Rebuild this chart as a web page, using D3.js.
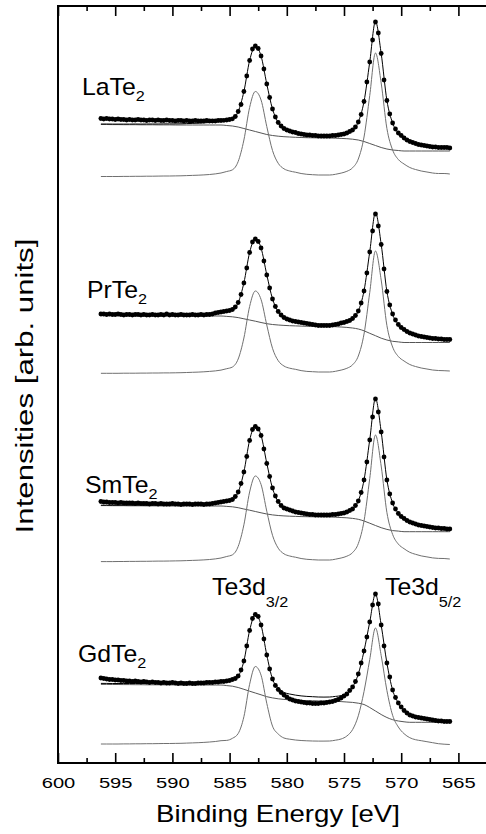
<!DOCTYPE html>
<html>
<head>
<meta charset="utf-8">
<script src="https://cdn.jsdelivr.net/npm/d3@7"></script>
<style>
  body { margin: 0; background: #fff; }
  svg { display: block; font-family: "Liberation Sans", Arial, sans-serif; }
</style>
</head>
<body>
<div id="chart"></div>
<script>
// binding energy of the measured points (eV), every second one is also a fit point
const energy = [
  596.25,596,595.75,595.5,595.25,595,594.75,594.5,594.25,594,
  593.75,593.5,593.25,593,592.75,592.5,592.25,592,591.75,591.5,
  591.25,591,590.75,590.5,590.25,590,589.75,589.5,589.25,589,
  588.75,588.5,588.25,588,587.75,587.5,587.25,587,586.75,586.5,
  586.25,586,585.75,585.5,585.25,585,584.75,584.5,584.25,584,
  583.75,583.5,583.25,583,582.75,582.5,582.25,582,581.75,581.5,
  581.25,581,580.75,580.5,580.25,580,579.75,579.5,579.25,579,
  578.75,578.5,578.25,578,577.75,577.5,577.25,577,576.75,576.5,
  576.25,576,575.75,575.5,575.25,575,574.75,574.5,574.25,574,
  573.75,573.5,573.25,573,572.75,572.5,572.25,572,571.75,571.5,
  571.25,571,570.75,570.5,570.25,570,569.75,569.5,569.25,569,
  568.75,568.5,568.25,568,567.75,567.5,567.25,567,566.75,566.5,
  566.25,566,565.75
];

const samples = ["LaTe", "PrTe", "SmTe", "GdTe"];
// vertical shift of each spectrum (arb. units)
const offsets = [586, 389, 201, 18];

// LaTe2
const dataLa = [
  58.5,58,58.5,58,58,57.5,58,57.5,57.5,57,
  57.5,57,57,57.5,57,57,56.5,57,57,56.5,
  57,56.5,56.5,57,56.5,56.5,56,56.5,56.5,56,
  56.5,56,56,56.5,56,56,56,56.5,56,56,
  56,56.5,56.5,56.7,57,57.5,58.2,60.5,65.5,72.5,
  85.5,101,116.5,128,131,128.5,121,108,93,79.5,
  68,60,54.5,51,48.5,47,46,45,44.5,43.5,
  43,42.5,42,42,41.5,41.5,41,41,41,41,
  41,41.5,41.5,42,42.5,43,44,45.5,47,50,
  55,62.5,75.5,95,115,137,155,144,123.5,97,
  76.5,63,54,48,44,41.5,39,37,35.5,34.5,
  33.5,32.5,32,31.5,31,30.5,30,30,29.5,29.5,
  29.5,29.5,29
];
const bgLa = [
  52.5,52.5,52.4,52.4,52.3,52.3,52.3,52.2,52.2,52.2,52.1,52.1,52.1,52,52,52,52,52,52,52,52,52,
  51.5,51,50,48.5,47,45.5,44,42.5,41.5,40.8,
  40.3,40,39.7,39.5,39.3,39.2,39.1,39,39,38.8,
  38.6,38.3,37.8,37,35.5,33.5,31.5,29.5,28,27,
  26.5,26,26,26,26,26,26,26,26,26
];
const peaksLa = [
  0.5,0.5,0.5,0.5,0.6,0.6,0.7,0.7,0.8,0.8,
  0.9,1,1,1.1,1.2,1.4,1.6,1.8,2.1,2.5,
  3.1,4,5.5,7.2,15.5,37,69.5,85.5,77,50.5,
  26.5,13.7,8.2,6,4.8,3.5,2.7,2.3,2,2,
  2,2.7,3.9,5.7,9.2,18,40,81.5,124,94,
  48.5,27,17.5,13,9.5,7.5,6,5,4,3.5,
  3.5,3
];

// PrTe2
const dataPr = [
  60,60,59.5,60,59.5,59.5,60,59.5,59,59.5,
  59.5,59,59.5,59.5,59,59.5,59,59,59.5,59,
  59,59.5,59,60,59,59.5,59,59,59.5,59,
  59,59,59.5,59,59,59.5,59,59.5,59.5,60,
  61,61.5,62,62.5,63,63.5,64.5,67,71.5,79.5,
  91,106,121.5,132,135,132.5,126,113,99,86,
  75,67.5,62.5,59,56.5,55,54,53,52.5,52,
  51.5,51,50.5,50,49.5,49,48.5,48.5,48.5,48.5,
  48.5,49,49.5,50,51,51.5,52.5,53.5,55.5,58.5,
  63,71,83,101,122,143,160,148,129.5,105,
  82.5,69,60,54,49.5,46.5,44.5,42.5,41,40,
  39,38,37.5,37,36.5,36,35.5,35.5,35,35,
  34.5,34.5,34.5
];
const bgPr = [
  58.3,58.3,58.3,58.2,58.2,58.2,58.2,58.1,58.1,58.1,58.1,58,58,58,58,58,58,58,58,58,58,58,
  57.6,57.2,56.4,55.2,54,52.8,51.5,50.3,49.5,49,
  48.6,48.3,48.1,47.9,47.7,47.7,47.6,47.5,47.5,47.3,
  47,46.6,46,45,43.2,40.7,38.3,35.8,34,32.7,
  32.1,31.5,31.5,31.5,31.5,31.5,31.5,31.5,31.5,31.5
];
const peaksPr = [
  0.7,0.7,0.7,0.7,0.8,0.8,0.8,0.9,0.9,1,
  1,1.1,1.1,1.2,1.3,1.5,1.7,1.9,2.2,2.6,
  3.1,3.9,5.3,7,15,36,67.5,83,74.5,49,
  25.7,13.3,8,5.8,4.7,3.4,2.6,2.3,2,2,
  2,2.7,3.9,5.7,9.2,18,40,81.5,123,94,
  48.5,27,17.5,13,9.5,7.5,6,5,4,3.5,
  3.3,3
];

// SmTe2
const dataSm = [
  60.5,60,60,59.5,59.5,59.5,59,59.5,59,59,
  59,59,58.5,59,58.5,58.5,58.5,58,58.5,58.5,
  58,58.5,58,58,58,58.5,58,58,57.5,58,
  58,58,57.5,58,58,58,57.5,58,58,58.5,
  59,59.5,60,60.5,61,61.5,62.5,65.5,70,78.5,
  90,105.5,121.5,132.5,135.5,133,126.5,113,98.5,85.5,
  74,66,60.5,56.5,54,53,52,51,50,49.5,
  49,48.5,48,47.5,47.5,47,47,47,47,47,
  47,47.5,47.5,48,48.5,49,50,51.5,53,56.5,
  61,69.5,82,100,122,145,163,150,130,105,
  82,68,59,53,48.5,45.5,43.5,41.5,40,39,
  38,37,36.5,36,35.5,35,34.5,34,34,33.5,
  33.5,33,33
];
const bgSm = [
  56.4,56.4,56.3,56.3,56.3,56.2,56.2,56.2,56.1,56.1,56.1,56,56,56,56,56,56,56,56,56,56,56,
  55.6,55.2,54.3,53,51.8,50.5,49.2,48,47.1,46.5,
  46.1,45.8,45.6,45.4,45.3,45.2,45.1,45,45,44.8,
  44.5,44.2,43.6,42.7,41,38.8,36.5,34.3,32.6,31.4,
  30.9,30.3,30.3,30.3,30.3,30.3,30.3,30.3,30.3,30.3
];
const peaksSm = [
  0.4,0.4,0.4,0.5,0.5,0.6,0.6,0.7,0.7,0.8,
  0.9,0.9,1,1.1,1.2,1.4,1.6,1.8,2.1,2.5,
  3.1,4,5.5,7.2,15.6,37.2,70,86,77.5,50.8,
  26.7,13.8,8.2,6,4.8,3.5,2.7,2.3,2,2,
  2,2.8,4,5.8,9.4,18.4,41,83.5,127,96,
  49.5,27.6,17.9,13.3,9.7,7.7,6.1,5.1,4.1,3.6,
  3.5,3
];

// GdTe2
const dataGd = [
  67,66.5,66,65.5,65.5,65,65,64.5,64.5,64,
  64,63.5,64,63.5,63,63.5,63,62.5,63,62.5,
  62.5,62,62.5,62,62,62.5,62,61.5,62,61.5,
  61.5,62,61.5,61.5,62,62,62,62.5,62.5,62.5,
  63,63,63.5,63.5,64,64.5,65.5,66.5,69,75,
  84,99,114.5,126.5,130.5,128.5,120,106,90,76,
  66,59.5,55.5,52.5,50,48,46,45,44,43.5,
  43,42.5,42,42,41.5,41.5,41.5,42,42,42.5,
  43,43.5,44.5,45.5,47,49,51,54.5,58,63.5,
  71,82,94,108,123,140,151,141,120,99,
  82,68,55,47.5,42,38,34.5,32,30,29,
  28,27.5,27,26.5,26,25.5,25,24.5,24,24,
  23.5,23.5,23.5
];
const bgGd = [
  60.6,60.6,60.5,60.5,60.4,60.4,60.3,60.3,60.2,60.2,60.2,60.1,60.1,60.1,60,60,60,60,60,60,60,60,
  59.4,58.8,57.5,55.7,53.8,52,50.2,48.3,47.1,46.2,
  45.6,45.2,44.9,44.6,44.4,44.3,44.1,44,44,43.8,
  43.4,43,42.6,41.8,40.5,37.5,34,30.5,27.5,25.3,
  24,23.2,22.7,22.7,22.7,22.7,22.7,22.7,22.7,22.7
];
const peaksGd = [
  1,1,1,1,1.1,1.1,1.2,1.2,1.3,1.3,
  1.4,1.5,1.5,1.6,1.7,1.9,2.1,2.3,2.6,3,
  3.5,4.3,4.6,6.7,11.5,28.3,60.7,78.5,69.8,41.7,
  18.9,11,7,5.8,5,4.5,4.2,4,3.9,3.9,
  4,4.8,6,9,15.4,29.2,53.5,85.5,117,89.5,
  54.5,29.7,18,11.3,7.3,5.3,4.3,3.3,2.3,1.3,
  0.8,0.5
];

const majorTicks = [600, 595, 590, 585, 580, 575, 570, 565];
const minorTicks = [597.5, 592.5, 587.5, 582.5, 577.5, 572.5, 567.5, 562.5];

const spectra = [
  { data: dataLa, bg: bgLa, peaks: peaksLa },
  { data: dataPr, bg: bgPr, peaks: peaksPr },
  { data: dataSm, bg: bgSm, peaks: peaksSm },
  { data: dataGd, bg: bgGd, peaks: peaksGd }
];

const width = 486, height = 834;
const fitEnergy = energy.filter((d, i) => i % 2 === 0);

const x = d3.scaleLinear().domain([600, 560]).range([58, 515.6]);
const y = d3.scaleLinear().domain([0, 757]).range([763, 6]);

const svg = d3.select("#chart").append("svg")
  .attr("width", width)
  .attr("height", height);

svg.append("rect").attr("width", width).attr("height", height).attr("fill", "#fff");

const line = d3.line()
  .x((d) => x(d[0]))
  .y((d) => y(d[1]))
  .curve(d3.curveMonotoneX);

spectra.forEach((s, k) => {
  const off = offsets[k];
  const g = svg.append("g").attr("class", "spectrum");

  g.append("path")
    .attr("d", line(fitEnergy.map((e, j) => [e, off + s.bg[j]])))
    .attr("fill", "none")
    .attr("stroke", "#555")
    .attr("stroke-width", 1);

  g.append("path")
    .attr("d", line(fitEnergy.map((e, j) => [e, off + s.peaks[j]])))
    .attr("fill", "none")
    .attr("stroke", "#707070")
    .attr("stroke-width", 1);

  g.append("path")
    .attr("d", line(fitEnergy.map((e, j) => [e, off + s.bg[j] + s.peaks[j]])))
    .attr("fill", "none")
    .attr("stroke", "#000")
    .attr("stroke-width", 1);

  g.selectAll("circle")
    .data(energy.map((e, i) => [e, off + s.data[i]]))
    .enter()
    .append("circle")
    .attr("cx", (d) => x(d[0]))
    .attr("cy", (d) => y(d[1]))
    .attr("r", 2.4)
    .attr("fill", "#000");
});

// axes: ticks point inwards, no y ticks
const tickStyle = (g) => {
  g.select(".domain").remove();
  g.selectAll("line").attr("stroke", "#000").attr("stroke-width", 1.6);
};

svg.append("g")
  .attr("transform", `translate(0,${y(0)})`)
  .call(d3.axisBottom(x).tickValues(majorTicks).tickSize(-10).tickPadding(14).tickFormat(d3.format("d")))
  .call(tickStyle)
  .call((g) => g.selectAll("text")
    .attr("font-size", 15.5)
    .attr("font-family", "Liberation Sans, Arial, sans-serif")
    .attr("fill", "#000")
    .attr("transform", "scale(1.3,1)"));

svg.append("g")
  .attr("transform", `translate(0,${y(0)})`)
  .call(d3.axisBottom(x).tickValues(minorTicks).tickSize(-5).tickFormat(""))
  .call(tickStyle);

svg.append("g")
  .attr("transform", `translate(0,${y(757)})`)
  .call(d3.axisTop(x).tickValues(majorTicks).tickSize(-10).tickFormat(""))
  .call(tickStyle);

svg.append("g")
  .attr("transform", `translate(0,${y(757)})`)
  .call(d3.axisTop(x).tickValues(minorTicks).tickSize(-5).tickFormat(""))
  .call(tickStyle);

svg.append("rect")
  .attr("x", x(600))
  .attr("y", y(757))
  .attr("width", x(560) - x(600))
  .attr("height", y(0) - y(757))
  .attr("fill", "none")
  .attr("stroke", "#000")
  .attr("stroke-width", 2);

// titles
svg.append("text")
  .attr("transform", "translate(278,822) scale(1.2,1)")
  .attr("text-anchor", "middle")
  .attr("font-size", 23)
  .text("Binding Energy [eV]");

svg.append("text")
  .attr("transform", "translate(33,386) rotate(-90) scale(1.3,1)")
  .attr("text-anchor", "middle")
  .attr("font-size", 24)
  .text("Intensities [arb. units]");

// sample names and peak labels
const labelPos = [[82, 95], [87, 298], [85, 493], [78, 662]];
samples.forEach((name, k) => {
  const t = svg.append("text")
    .attr("transform", `translate(${labelPos[k][0]},${labelPos[k][1]}) scale(1.08,1)`)
    .attr("font-size", 23);
  t.append("tspan").text(name);
  t.append("tspan").attr("font-size", 15).attr("dy", 6).text("2");
});

const peakLabels = [["Te3d", "3/2", 212], ["Te3d", "5/2", 385]];
peakLabels.forEach(([main, sub, px]) => {
  const t = svg.append("text")
    .attr("transform", `translate(${px},595) scale(1.08,1)`)
    .attr("font-size", 23);
  t.append("tspan").text(main);
  t.append("tspan").attr("font-size", 15).attr("dy", 12).text(sub);
});
</script>
</body>
</html>
